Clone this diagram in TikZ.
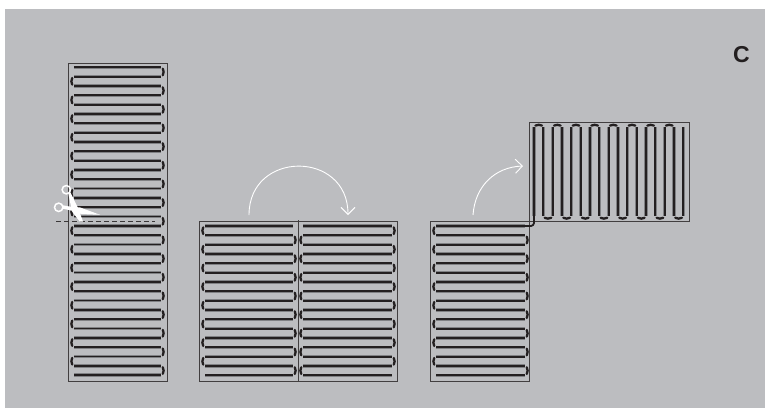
\documentclass[tikz,border=0pt]{standalone}
\usepackage{fontspec}
\setmainfont{Liberation Sans}
\usetikzlibrary{arrows.meta}
\definecolor{panelgray}{HTML}{BCBDC0}
\definecolor{wirehalo}{HTML}{808184}
\definecolor{wiredark}{HTML}{231F20}
\tikzset{
  matbox/.style={draw=wiredark!80!panelgray,line width=1pt},
  wirehalo/.style={draw=wirehalo,line width=3.4pt},
  wirecore/.style={draw=wiredark,line width=1.8pt},
  turncap/.style={draw=wiredark,line width=2.3pt,line cap=round},
  bendarrow/.style={draw=white,line width=0.9pt,-{Straight Barb[length=7pt,width=14pt,line width=0.9pt]}},
}
% \hrows{x left}{x right}{y first}{count}{first turn on the right: 1, left: 0}
\newcommand{\hrows}[5]{
  \foreach \i in {1,...,#4}{
    \pgfmathsetmacro{\yy}{#3+(\i-1)*9.33}
    \draw[wirehalo] (#1,\yy) -- (#2,\yy);
    \draw[wirecore] (#1,\yy) -- (#2,\yy);
  }
  \pgfmathtruncatemacro{\nturn}{#4-1}
  \foreach \i in {1,...,\nturn}{
    \pgfmathsetmacro{\yy}{#3+(\i-1)*9.33+4.67}
    \pgfmathtruncatemacro{\side}{mod(\i+#5,2)}
    \ifnum\side=0
      \draw[turncap] (#2+1.8,\yy-3.3) to[bend left=25] (#2+1.8,\yy+3.3);
    \else
      \draw[turncap] (#1-1.8,\yy-3.3) to[bend right=25] (#1-1.8,\yy+3.3);
    \fi
  }
}
\begin{document}
\begin{tikzpicture}[x=1pt,y=-1pt]
  \useasboundingbox (0,0) rectangle (765,408);
  \fill[panelgray] (5,9) rectangle (765,408);

  % strip before the cut
  \draw[matbox] (68,63) rectangle (167,381);
  \hrows{74}{161}{67.3}{34}{1}
  \draw[wiredark!85!panelgray,line width=1.1pt,dash pattern=on 5.2pt off 2.8pt] (56,221.7) -- (155,221.7);

  % scissors
  \coordinate (ringtop) at (66.3,189.7);
  \coordinate (ringlow) at (58.7,207.3);
  \draw[white,line width=1.5pt] (ringtop) circle (4.2);
  \draw[white,line width=1.5pt] (ringlow) circle (4.2);
  \fill[white] (68.3,193.5) -- (70.5,192.5) -- (78,208) -- (83,221.5) -- (79.7,221.5) -- (72,211.3) -- cycle;
  \fill[white] (63,205.3) -- (74,207.3) -- (79.7,207.3) -- (100,214.8) -- (81.3,214) -- (74.7,211.3) -- (63,208.7) -- cycle;

  % two halves side by side
  \draw[matbox] (199,221) rectangle (397,381);
  \draw[matbox] (298,220) -- (298,381);
  \hrows{205}{293}{226}{17}{0}
  \hrows{303}{392}{226}{17}{1}
  \coordinate (flipstart) at (249,215);
  \coordinate (flipend) at (348,215);
  \draw[bendarrow] (flipstart) .. controls (249,150) and (348,150) .. (flipend);

  % folded mat
  \draw[matbox] (430,221) rectangle (529,381);
  \draw[matbox] (529,122) rectangle (689,221);
  \hrows{436}{525}{226}{17}{0}
  \foreach \i in {1,...,17}{
    \pgfmathsetmacro{\xx}{534+(\i-1)*9.33}
    \draw[wirehalo] (\xx,127.3) -- (\xx,216);
    \draw[wirecore] (\xx,127.3) -- (\xx,216);
  }
  \draw[wirecore] (525,226) -- (531,226) to[bend right=35] (534,223) -- (534,216);
  \foreach \i in {1,3,...,15}{
    \pgfmathsetmacro{\xx}{534+(\i-1)*9.33+4.67}
    \draw[turncap] (\xx-3.3,125.6) to[bend left=25] (\xx+3.3,125.6);
    \draw[turncap] (\xx+6,217.8) to[bend right=25] (\xx+12.6,217.8);
  }
  \coordinate (foldstart) at (473,215);
  \coordinate (foldend) at (523,166);
  \draw[bendarrow] (foldstart) .. controls (475,186) and (495,167) .. (foldend);

  \node[font=\bfseries,text=wiredark,inner sep=0pt,scale=2.3] (letter) at (741.5,55) {C};
\end{tikzpicture}
\end{document}
